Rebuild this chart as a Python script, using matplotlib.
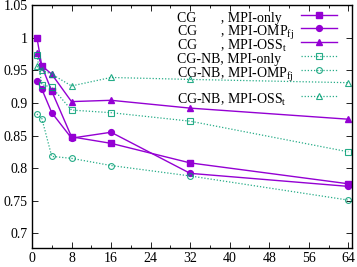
import matplotlib
matplotlib.use("Agg")
import matplotlib.pyplot as plt
from matplotlib.ticker import MultipleLocator

plt.rcParams["font.family"] = ["Liberation Serif", "DejaVu Serif"]
plt.rcParams["mathtext.fontset"] = "custom"
plt.rcParams["mathtext.rm"] = "Liberation Serif"
plt.rcParams["mathtext.it"] = "Liberation Serif:italic"

# data
threads = [1, 2, 4, 8, 16, 32, 64]

cg_mpi_only = [1.000, 0.956, 0.918, 0.848, 0.838, 0.808, 0.776]
cg_mpi_omp = [0.933, 0.921, 0.885, 0.846, 0.855, 0.792, 0.772]
cg_mpi_oss = [0.976, 0.957, 0.944, 0.902, 0.904, 0.892, 0.875]
nb_mpi_only = [0.973, 0.928, 0.924, 0.889, 0.885, 0.872, 0.825]
nb_mpi_omp = [0.883, 0.876, 0.818, 0.815, 0.804, 0.788, 0.751]
nb_mpi_oss = [0.956, 0.950, 0.944, 0.926, 0.939, 0.936, 0.931]

labels = [
    "CG       , MPI-only",
    "CG       , MPI-OMP$_{\\rm fj}$",
    "CG       , MPI-OSS$_{\\rm t}$",
    "CG-NB, MPI-only",
    "CG-NB, MPI-OMP$_{\\rm fj}$",
    "CG-NB, MPI-OSS$_{\\rm t}$",
]

PURPLE = "#9400d3"
GREEN = "#009e73"

# key rows (axes fraction), gnuplot-style key on the right with uneven spacing
KEY_ROWS = [0.959, 0.904, 0.849, 0.790, 0.732, 0.625]

fig = plt.figure(figsize=(3.57, 2.67), dpi=100)
ax = fig.add_axes([0.0896, 0.0723, 0.8964, 0.9087])

series = [
    (cg_mpi_only, PURPLE, "s", True),
    (cg_mpi_omp, PURPLE, "o", True),
    (cg_mpi_oss, PURPLE, "^", True),
    (nb_mpi_only, GREEN, "s", False),
    (nb_mpi_omp, GREEN, "o", False),
    (nb_mpi_oss, GREEN, "^", False),
]
for (values, color, marker, filled), label, ky in zip(series, labels, KEY_ROWS):
    if filled:
        style = dict(color=color, lw=1.0, marker=marker, ms=4.2, mfc=color, mec=color)
    else:
        style = dict(color=color, lw=0.9, ls=(0, (1, 1.5)), marker=marker, ms=4.2,
                     mfc="none", mec=color, mew=0.8, alpha=0.85)
    ax.plot(threads, values, **style)
    # key entry
    ax.plot([0.84, 0.953], [ky, ky], transform=ax.transAxes, clip_on=False,
            markevery=[], **style)
    ax.plot([0.896], [ky], transform=ax.transAxes, clip_on=False, **style)
    ax.text(0.453, ky - 0.008, label, transform=ax.transAxes, fontsize=10,
            ha="left", va="center_baseline")

ax.set_xlim(0, 64.75)
ax.set_ylim(0.678, 1.05)
ax.xaxis.set_major_locator(MultipleLocator(8))
ax.xaxis.set_minor_locator(MultipleLocator(4))
ax.set_yticks([0.7, 0.75, 0.8, 0.85, 0.9, 0.95, 1.0, 1.05])
ax.set_yticklabels(["0.7", "0.75", "0.8", "0.85", "0.9", "0.95", "1", "1.05"])
ax.tick_params(which="both", direction="in", top=True, right=True, labelsize=10, pad=3)
ax.tick_params(which="major", length=4, width=0.6)
ax.tick_params(which="minor", length=2, width=0.6)
for spine in ax.spines.values():
    spine.set_linewidth(1.0)

fig.savefig("out.png", dpi=100)
